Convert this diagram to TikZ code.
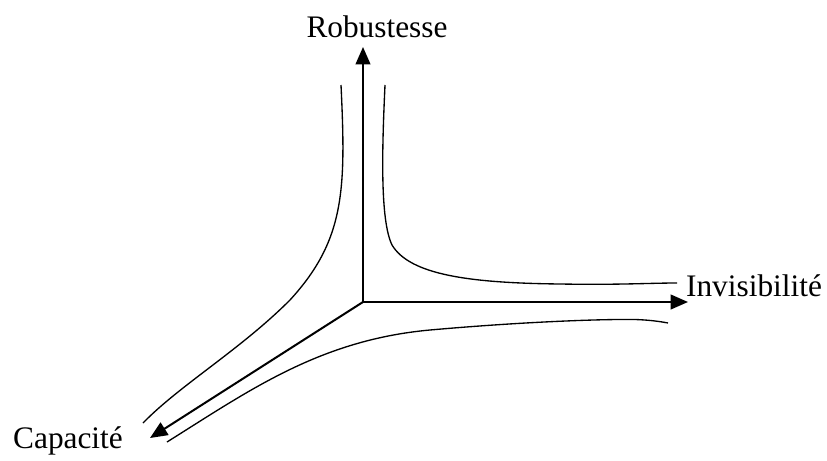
\documentclass[tikz,border=0pt]{standalone}
\usepackage{fontspec}
\setmainfont{Liberation Serif}
\usetikzlibrary{arrows.meta}

\begin{document}
\begin{tikzpicture}[x=0.75pt, y=-0.75pt,
    every node/.style={font=\fontsize{23.5}{28}\selectfont},
    axis/.style={line width=1.5pt, -{Triangle[length=13pt, width=11pt]}},
    zone/.style={line width=1pt}]
      \useasboundingbox (0,0) rectangle (827,460);
      % axes
      \coordinate (o) at (363,302);
      \coordinate (rob) at (363,47);
      \coordinate (inv) at (688,302);
      \coordinate (cap) at (150,438);
      \draw[axis] (o) -- (rob);
      \draw[axis] (o) -- (inv);
      \draw[axis] (o) -- (cap);
      \node (robl) at (377,27) {Robustesse};
      \node (invl) at (754,286) {Invisibilité};
      \node (capl) at (68,441) {Capacité};
      % curves between the axes
      \draw[zone] (341,85) .. controls (346,190) and (345,240) .. (290,300)
        .. controls (240,350) and (180,385) .. (143,423);
      \draw[zone] (385,85) .. controls (382,150) and (380,220) .. (392,245)
        .. controls (410,275) and (470,283) .. (560,284)
        .. controls (620,285) and (650,283) .. (677,283);
      \draw[zone] (167,442) .. controls (250,390) and (320,340) .. (430,330)
        .. controls (520,322) and (600,319) .. (635,319.5)
        .. controls (650,320) and (660,321.5) .. (668,323);
\end{tikzpicture}
\end{document}
